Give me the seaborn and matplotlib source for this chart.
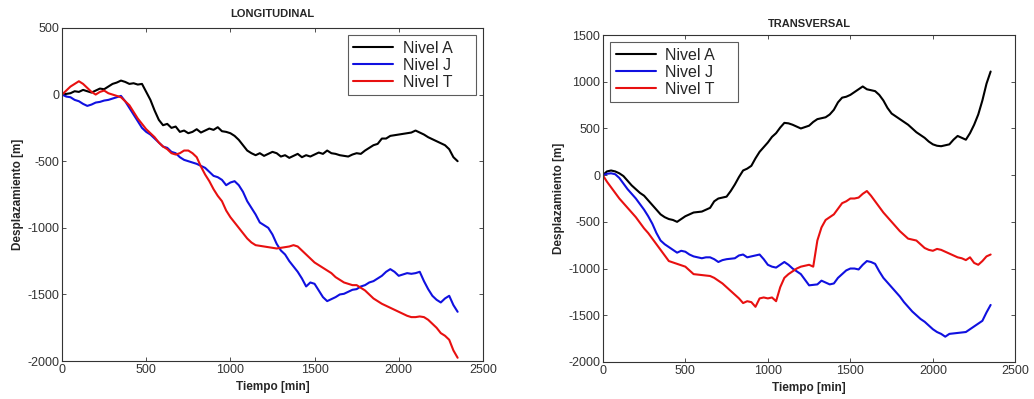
import numpy as np
import pandas as pd
import matplotlib
matplotlib.use("Agg")
import matplotlib.pyplot as plt
import seaborn as sns

# Displacement records sampled every 25 min (0 .. 2350 min)
long_A = [0, 5, 10, 25, 20, 35, 25, 15, 30, 45, 40, 60, 80, 90, 105, 95, 80, 85, 75, 80,
          20, -40, -120, -190, -230, -220, -250, -240, -280, -270, -290, -280, -260, -285, -270, -255,
          -265, -245, -275, -280, -290, -310, -340, -380, -420, -440, -455, -440, -460, -445, -430,
          -440, -465, -455, -475, -460, -445, -470, -455, -465, -450, -435, -445, -420, -440, -445,
          -455, -460, -465, -450, -440, -445, -420, -400, -380, -370, -330, -330, -310, -305, -300,
          -295, -290, -285, -270, -285, -300, -320, -335, -350, -365, -380, -410, -470, -500]
long_J = [0, -15, -20, -40, -50, -70, -85, -75, -60, -55, -45, -40, -30, -20, -10, -50, -100,
          -150, -200, -250, -280, -300, -330, -360, -390, -400, -430, -440, -470, -490, -500, -510,
          -520, -535, -550, -580, -610, -620, -640, -680, -660, -650, -680, -730, -800, -850, -900,
          -960, -980, -1000, -1050, -1120, -1170, -1200, -1250, -1290, -1330, -1380, -1440, -1410,
          -1420, -1470, -1520, -1550, -1535, -1520, -1500, -1495, -1480, -1465, -1460, -1440, -1430,
          -1410, -1400, -1380, -1360, -1330, -1310, -1330, -1360, -1350, -1340, -1345, -1340, -1330,
          -1400, -1460, -1510, -1540, -1560, -1530, -1510, -1580, -1630]
long_T = [0, 30, 60, 80, 100, 80, 50, 20, 0, 20, 30, 10, 0, -10, -20, -50, -80, -130, -180,
          -220, -260, -290, -320, -360, -390, -410, -440, -450, -440, -420, -420, -440, -470, -540,
          -600, -650, -710, -760, -800, -870, -920, -960, -1000, -1040, -1080, -1110, -1130, -1135,
          -1140, -1145, -1150, -1155, -1150, -1145, -1140, -1130, -1140, -1170, -1200, -1230, -1260,
          -1280, -1300, -1320, -1340, -1370, -1390, -1410, -1420, -1430, -1430, -1450, -1470, -1500,
          -1530, -1550, -1570, -1585, -1600, -1615, -1630, -1645, -1660, -1670, -1670, -1665, -1670,
          -1690, -1720, -1750, -1790, -1810, -1840, -1920, -1975]

trans_A = [0, 40, 50, 40, 20, -10, -60, -110, -150, -190, -220, -270, -320, -370, -420, -450,
           -470, -480, -500, -470, -440, -420, -400, -395, -390, -370, -350, -280, -250, -240, -230,
           -170, -100, -20, 50, 70, 100, 180, 250, 300, 350, 410, 450, 510, 560, 555, 540, 520, 500,
           515, 530, 570, 600, 610, 620, 650, 700, 780, 830, 840, 860, 890, 920, 950, 920, 910, 900,
           860, 800, 720, 660, 630, 600, 570, 540, 500, 460, 430, 400, 360, 330, 315, 310, 320, 330,
           380, 420, 400, 380, 450, 540, 650, 800, 980, 1110]
trans_J = [0, 15, 20, 10, -30, -90, -150, -200, -250, -310, -370, -440, -520, -620, -700, -740,
           -770, -800, -830, -810, -820, -850, -870, -880, -890, -880, -880, -900, -930, -910, -900,
           -895, -890, -860, -850, -880, -870, -860, -850, -900, -960, -980, -990, -960, -930, -960,
           -1000, -1030, -1060, -1120, -1180, -1175, -1170, -1130, -1150, -1170, -1160, -1100, -1060,
           -1020, -1000, -1000, -1010, -960, -920, -930, -950, -1030, -1100, -1150, -1200, -1250,
           -1300, -1360, -1410, -1460, -1500, -1540, -1570, -1610, -1650, -1680, -1700, -1730, -1700,
           -1695, -1690, -1685, -1680, -1650, -1620, -1590, -1560, -1470, -1390]
trans_T = [0, -70, -130, -190, -250, -300, -350, -400, -450, -510, -570, -620, -680, -740, -800,
           -860, -920, -935, -950, -965, -980, -1020, -1060, -1065, -1070, -1075, -1080, -1100, -1130,
           -1160, -1200, -1240, -1280, -1320, -1370, -1350, -1360, -1410, -1320, -1310, -1320, -1310,
           -1350, -1200, -1100, -1060, -1030, -1000, -980, -970, -960, -980, -700, -560, -480, -450,
           -420, -360, -300, -280, -250, -250, -240, -200, -170, -220, -280, -340, -400, -450, -500,
           -550, -600, -640, -680, -690, -700, -740, -780, -800, -810, -790, -800, -820, -840, -860,
           -880, -890, -910, -880, -940, -960, -920, -870, -850]

series_names = ["Nivel A", "Nivel J", "Nivel T"]
series_colors = ["#000000", "#1010e0", "#e81010"]
x_ticks = [0, 500, 1000, 1500, 2000, 2500]

sns.set_style("ticks")
plt.rcParams["font.family"] = ["Liberation Sans", "DejaVu Sans"]
plt.rcParams["xtick.direction"] = "in"
plt.rcParams["ytick.direction"] = "in"
plt.rcParams["axes.unicode_minus"] = False

fig = plt.figure(figsize=(10.34, 3.99), dpi=100)
ax1 = fig.add_axes([0.060, 0.095, 0.407, 0.835])
ax2 = fig.add_axes([0.583, 0.093, 0.399, 0.819])


def draw_panel(ax, data, title, yticks, legend_loc, legend_anchor, title_pad):
    for vals, name, col in zip(data, series_names, series_colors):
        t = np.linspace(0, 2350, len(vals))
        df = pd.DataFrame({"Tiempo": t, "Desplazamiento": vals})
        sns.lineplot(data=df, x="Tiempo", y="Desplazamiento", ax=ax, color=col,
                     lw=1.5, label=name)
    ax.set_xlim(0, 2500)
    ax.set_ylim(yticks[0], yticks[-1])
    ax.set_xticks(x_ticks)
    ax.set_yticks(yticks)
    ax.tick_params(axis="both", labelsize=9, colors="#333333", length=3, width=0.6,
                   top=True, right=True, pad=2)
    for sp in ax.spines.values():
        sp.set_visible(True)
        sp.set_linewidth(0.8)
        sp.set_color("#333333")
    ax.set_xlabel("Tiempo [min]", fontsize=8.5, fontweight="bold", labelpad=4)
    ax.set_ylabel("Desplazamiento [m]", fontsize=8.5, fontweight="bold", labelpad=2)
    ax.set_title(title, fontsize=8, fontweight="bold", pad=title_pad)
    leg = ax.legend(loc=legend_loc, bbox_to_anchor=legend_anchor, fontsize=11.5,
                    frameon=True, fancybox=False, edgecolor="#333333",
                    handlelength=2.5, handletextpad=0.6, labelspacing=0.12,
                    borderpad=0.35, borderaxespad=0.45)
    leg.get_frame().set_linewidth(0.8)
    for txt in leg.get_texts():
        txt.set_text(txt.get_text() + "    ")


draw_panel(ax1, [long_A, long_J, long_T], "LONGITUDINAL",
           [-2000, -1500, -1000, -500, 0, 500], "upper right", (1.0, 1.0), 8)
draw_panel(ax2, [trans_A, trans_J, trans_T], "TRANSVERSAL",
           [-2000, -1500, -1000, -500, 0, 500, 1000, 1500], "upper left", (0.0, 1.0), 6)

fig.savefig("out.png", dpi=100, facecolor="white")
